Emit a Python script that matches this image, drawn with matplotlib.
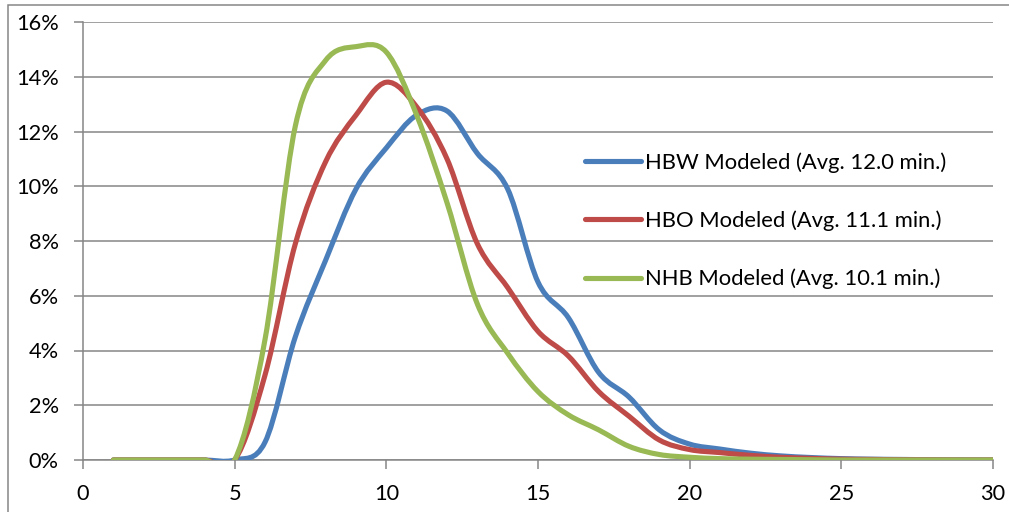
import numpy as np
import matplotlib
matplotlib.use("Agg")
import matplotlib.pyplot as plt
from matplotlib.path import Path
from matplotlib.patches import PathPatch, Rectangle
from matplotlib.lines import Line2D
from matplotlib.ticker import PercentFormatter

plt.rcParams['font.family'] = ['Lato', 'DejaVu Sans']

# travel time (minutes) and share of trips (%)
minutes = list(range(1, 31))
hbw = [0, 0, 0, 0, 0, 0.65, 4.5, 7.3, 9.9, 11.4, 12.6, 12.75, 11.2, 9.9, 6.5,
       5.2, 3.2, 2.3, 1.1, 0.58, 0.4, 0.25, 0.15, 0.09, 0.05, 0.03, 0.02, 0.01, 0.005, 0]
hbo = [0, 0, 0, 0, 0, 3.1, 7.9, 10.9, 12.6, 13.8, 12.9, 11.0, 7.9, 6.3, 4.7,
       3.8, 2.5, 1.6, 0.73, 0.38, 0.27, 0.17, 0.1, 0.06, 0.03, 0.02, 0.01, 0.005, 0, 0]
nhb = [0, 0, 0, 0, 0, 4.4, 12.2, 14.6, 15.1, 14.9, 12.6, 9.4, 5.7, 3.9, 2.5,
       1.65, 1.1, 0.5, 0.2, 0.1, 0.05, 0.03, 0.02, 0.01, 0, 0, 0, 0, 0, 0]

series = [
    ("HBW Modeled (Avg. 12.0 min.)", hbw, "#4A7EBB"),
    ("HBO Modeled (Avg. 11.1 min.)", hbo, "#BE4B48"),
    ("NHB Modeled (Avg. 10.1 min.)", nhb, "#98B954"),
]


def smooth_path(x, y):
    # excel style smoothed line: catmull-rom turned into cubic bezier segments
    x = np.asarray(x, float)
    y = np.asarray(y, float)
    pts = np.column_stack([x, y])
    n = len(pts)
    verts = [pts[0]]
    codes = [Path.MOVETO]
    for i in range(n - 1):
        p0 = pts[i - 1] if i > 0 else pts[i]
        p1 = pts[i]
        p2 = pts[i + 1]
        p3 = pts[i + 2] if i + 2 < n else pts[i + 1]
        c1 = p1 + (p2 - p0) / 6.0
        c2 = p2 - (p3 - p1) / 6.0
        verts += [c1, c2, p2]
        codes += [Path.CURVE4] * 3
    return Path(verts, codes)


W, H = 1009, 512
fig = plt.figure(figsize=(W / 100, H / 100), dpi=100)
ax = fig.add_axes([83 / W, 52 / H, 910 / W, 438 / H])

grid_c = "#868686"
for label, vals, col in series:
    p = PathPatch(smooth_path(minutes, vals), facecolor="none", edgecolor=col,
                  lw=3.7, capstyle="round", joinstyle="round", zorder=3)
    ax.add_patch(p)

ax.set_xlim(0, 30)
ax.set_ylim(0, 16)
ax.set_xticks(range(0, 31, 5))
ax.set_yticks(range(0, 17, 2))
ax.yaxis.set_major_formatter(PercentFormatter(decimals=0))
ax.grid(axis="y", color=grid_c, lw=1.1)
ax.set_axisbelow(True)
for s in ["top", "right"]:
    ax.spines[s].set_visible(False)
for s in ["left", "bottom"]:
    ax.spines[s].set_color(grid_c)
    ax.spines[s].set_linewidth(1.1)
ax.tick_params(axis="both", colors=grid_c, labelcolor="black", labelsize=15.7,
               length=6.5, width=1.1, pad=11)

handles = [Line2D([], [], color=c, lw=3.7, solid_capstyle="round") for _, _, c in series]
fig.legend(handles, [s[0] for s in series], loc="upper left",
           bbox_to_anchor=(585 / W, 1 - 152 / H), frameon=False, fontsize=15.8,
           handlelength=2.55, handletextpad=0.2, labelspacing=1.72,
           borderpad=0, borderaxespad=0)

# outer chart frame (only top and left edges show in the crop)
fig.add_artist(Rectangle((8 / W, -0.2), 1.2, 1.2 - 5 / H, transform=fig.transFigure,
                         fill=False, edgecolor=grid_c, lw=1.1))

fig.savefig("out.png", dpi=100)
